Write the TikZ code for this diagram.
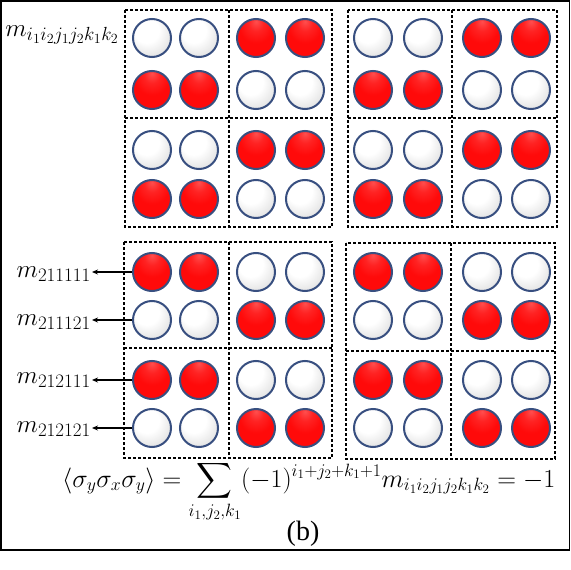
\RequirePackage{fix-cm}
\documentclass[tikz,border=0pt]{standalone}
\usepackage{exscale}
\usepackage[no-math]{fontspec}
\newfontfamily\timesf{Liberation Serif}
\DeclareMathSizes{25}{25}{19}{14}
\DeclareMathSizes{26}{26}{17.8}{13}
\usetikzlibrary{arrows.meta}
\definecolor{ballrim}{rgb}{0.22,0.31,0.50}
\definecolor{ballred}{rgb}{1,0.04,0.04}
\pgfdeclareradialshading{redball}{\pgfpoint{0bp}{22bp}}{color(0bp)=(ballred!72!white); color(10bp)=(ballred!90!white); color(22bp)=(ballred); color(50bp)=(ballred); color(60bp)=(ballred!80!black); color(72bp)=(ballred!55!black)}
\pgfdeclareradialshading{whiteball}{\pgfpoint{-10bp}{14bp}}{color(0bp)=(white); color(16bp)=(white); color(30bp)=(black!10); color(42bp)=(black!28); color(52bp)=(black!50)}
\tikzset{
  ball0/.style={circle, minimum size=38pt, inner sep=0pt, shade, shading=whiteball, draw=ballrim, line width=2pt},
  ball1/.style={circle, minimum size=38pt, inner sep=0pt, shade, shading=redball, draw=ballrim, line width=2pt},
  dbox/.style={line width=2.8pt, dash pattern=on 2.8pt off 2.2pt},
  lbl/.style={inner sep=1pt, font=\fontsize{25}{30}\selectfont},
  arr/.style={-{Stealth[length=6pt,width=5pt]}, line width=1.2pt}
}
\begin{document}
\begin{tikzpicture}[x=1pt,y=-1pt]
\useasboundingbox (0,0) rectangle (571,570);
\fill[white] (0,0) rectangle (571,570);
\draw[line width=1.5pt] (1,1) rectangle (569.5,550);
% dotted boxes
\foreach \xa/\xb/\xc/\ya/\yb/\yc in {125/229/332/10/118/227, 348/452/557/10/118/227, 124/229/332/242/348/458, 346/451/555/243/351/459}{
  \draw[dbox] (\xa,\ya) rectangle (\xc,\yc);
  \draw[dbox] (\xa,\yb) -- (\xc,\yb);
  \draw[dbox] (\xb,\ya) -- (\xb,\yc);
}
% balls
\foreach \y/\p [count=\r] in {38/0,90/1,150/0,199/1,272/1,320/0,380/1,428/0}{
  \foreach \x [count=\c] in {152,199,256,305,373,423,482,531}{
    \pgfmathtruncatemacro{\k}{mod(floor((\c-1)/2)+\p,2)}
    \node[ball\k] (b\r\c) at (\x,\y) {};
  }
}
% labels
\node[lbl, anchor=base east] (top) at (120,36) {$m_{i_1i_2j_1j_2k_1k_2}$};
\node[lbl, anchor=east] (l5) at (92,274) {$m_{211111}$};
\node[lbl, anchor=east] (l6) at (92,322) {$m_{211121}$};
\node[lbl, anchor=east] (l7) at (92,380) {$m_{212111}$};
\node[lbl, anchor=east] (l8) at (92,429) {$m_{212121}$};
\draw[arr] (b51.west) -- (b51.west -| l5.east);
\draw[arr] (b61.west) -- (b61.west -| l6.east);
\draw[arr] (b71.west) -- (b71.west -| l7.east);
\draw[arr] (b81.west) -- (b81.west -| l8.east);
% equation
\node[inner sep=0pt, font=\fontsize{26}{30}\selectfont, anchor=base west] (eq) at (62,487) {$\displaystyle \langle\sigma_y\sigma_x\sigma_y\rangle=\sum_{i_1,j_2,k_1}(-1)^{i_1+j_2+k_1+1}m_{i_1i_2j_1j_2k_1k_2}=-1$};
\node[inner sep=0pt, font=\timesf\fontsize{28}{32}\selectfont] (cap) at (303,534) {(b)};
\end{tikzpicture}
\end{document}
